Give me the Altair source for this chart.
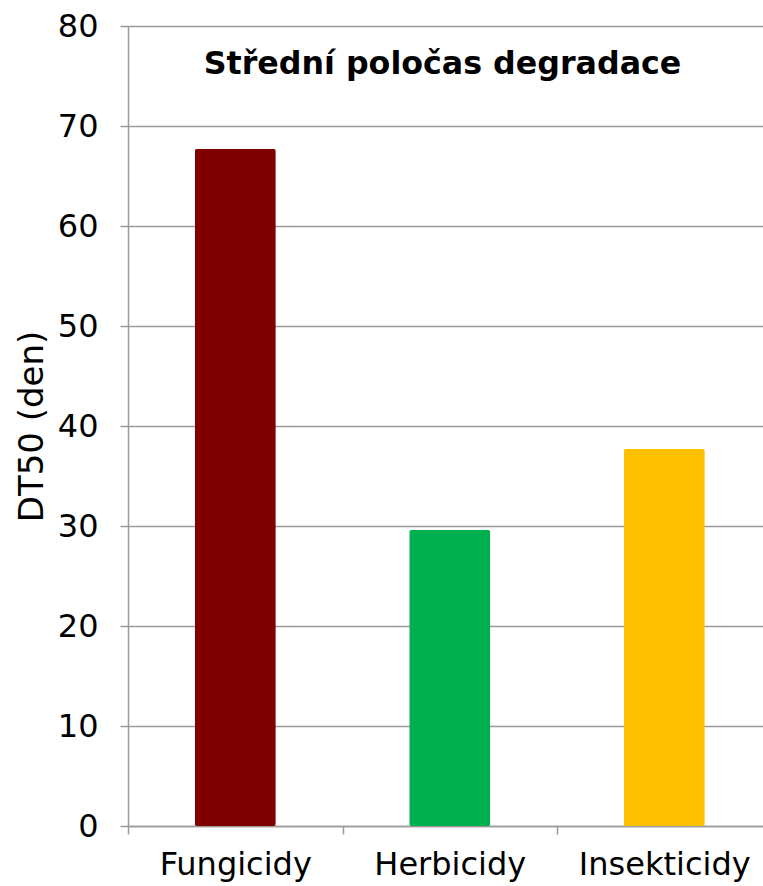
import altair as alt
import pandas as pd

# Median degradation half-life (DT50, days) by pesticide group
categories = ["Fungicidy", "Herbicidy", "Insekticidy"]
dt50_days = [67.7, 29.6, 37.7]
bar_colors = ["#800000", "#00B050", "#FFC000"]

y_ticks = [0, 10, 20, 30, 40, 50, 60, 70, 80]

df = pd.DataFrame({"skupina": categories, "dt50": dt50_days})

FONT = "DejaVu Sans"
GRID = "#9a9a9a"

chart = (
    alt.Chart(df)
    .mark_bar(cornerRadius=2, width=alt.RelativeBandSize(0.378))
    .encode(
        x=alt.X(
            "skupina:N",
            sort=categories,
            title=None,
            # three full-width category slots; the last one runs past the right edge
            scale=alt.Scale(paddingInner=0, paddingOuter=0, range=[0, 643.5]),
            axis=alt.Axis(
                labelAngle=0,
                labelFontSize=32,
                labelFont=FONT,
                labelColor="#000000",
                labelPadding=15,
                tickBand="extent",
                tickSize=8,
                tickColor=GRID,
                tickWidth=1.5,
                domainColor=GRID,
                domainWidth=1.5,
                grid=False,
            ),
        ),
        y=alt.Y(
            "dt50:Q",
            title="DT50 (den)",
            scale=alt.Scale(domain=[0, 80], nice=False),
            axis=alt.Axis(
                values=y_ticks,
                labelFontSize=32,
                labelFont=FONT,
                labelColor="#000000",
                labelPadding=22,
                titleFontSize=34,
                titleFont=FONT,
                titleFontWeight="normal",
                titleColor="#000000",
                titlePadding=8,
                tickSize=8,
                tickColor=GRID,
                tickWidth=1.5,
                domainColor=GRID,
                domainWidth=1.5,
                grid=True,
                gridColor=GRID,
                gridWidth=1.5,
            ),
        ),
        color=alt.Color(
            "skupina:N",
            scale=alt.Scale(domain=categories, range=bar_colors),
            legend=None,
        ),
    )
    .properties(
        width=635,
        height=800,
        title=alt.TitleParams(
            "Střední poločas degradace",
            font=FONT,
            fontSize=31.7,
            fontWeight="bold",
            color="#000000",
            anchor="middle",
            baseline="alphabetic",
            offset=0,
            dy=96,
            dx=-3,
        ),
        autosize=alt.AutoSizeParams(type="none"),
        padding={"left": 128, "top": 26, "right": 0, "bottom": 60},
    )
    .configure_view(stroke=None)
    .configure(background="#ffffff")
)

chart.save("out.html", embed_options={"renderer": "svg", "actions": False})
